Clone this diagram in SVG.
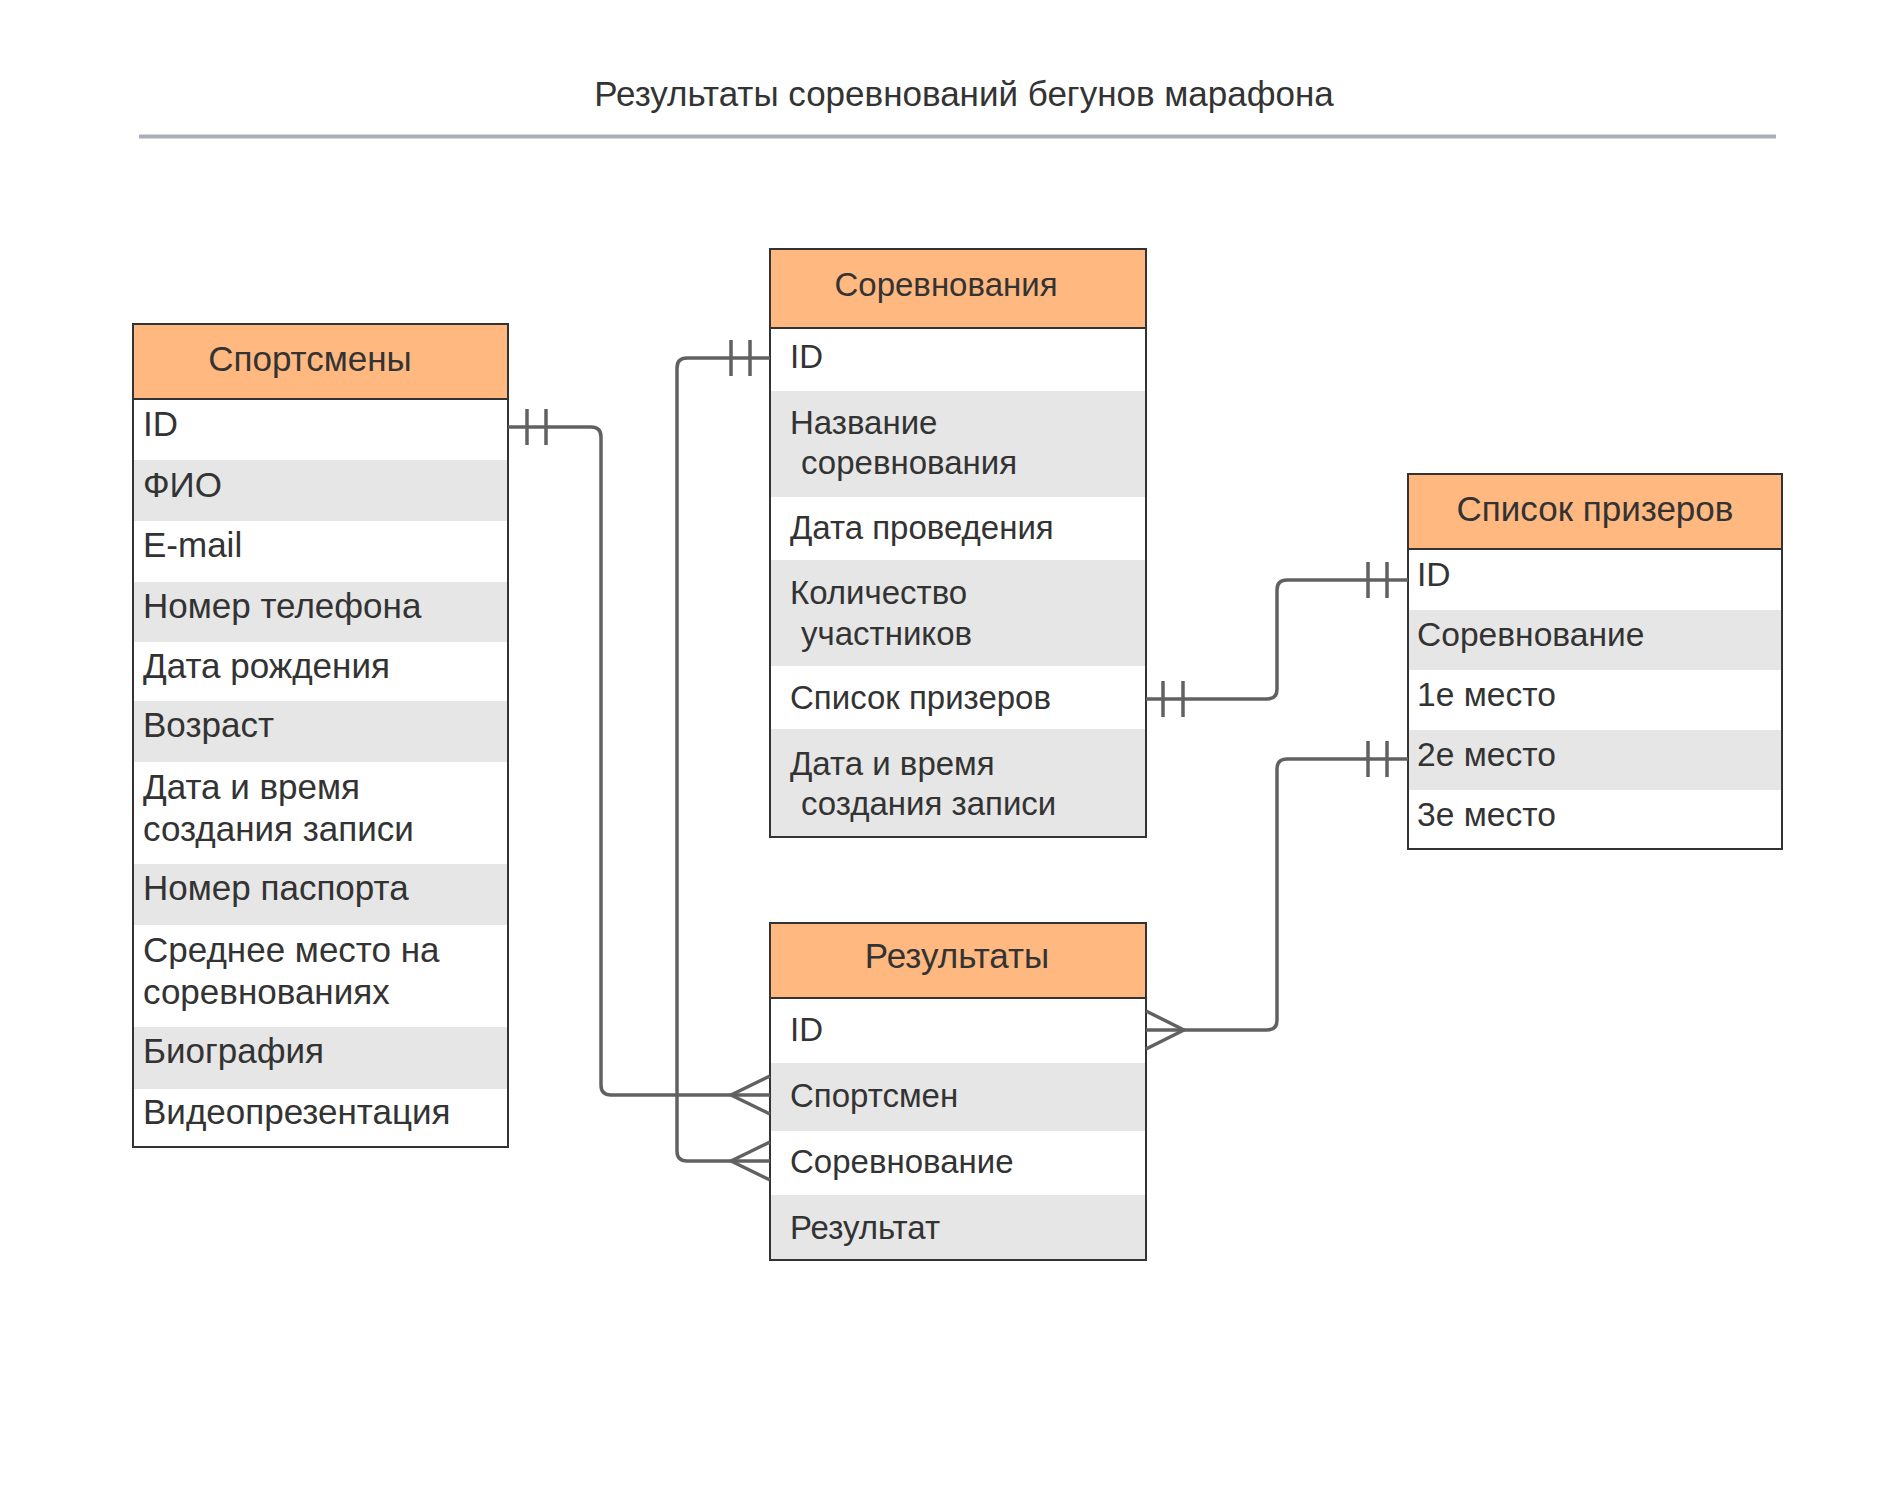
<svg xmlns="http://www.w3.org/2000/svg" width="1877" height="1487" viewBox="0 0 1877 1487">
<style>
text{font-family:"Liberation Sans",Arial,sans-serif;fill:#333333;font-size:33px}
.big{font-size:35px}
.p{font-size:33.6px}
.h{text-anchor:middle}
.hd{fill:#FFB880}
.w{fill:#FFFFFF}
.g{fill:#E6E6E6}
.frame{fill:none;stroke:#333333;stroke-width:2}
.c{fill:none;stroke:#616161;stroke-width:3.5;stroke-linejoin:round}
</style>
<rect width="1877" height="1487" fill="#FFFFFF"/>
<g id="title">
<text class="big h" x="964" y="106">Результаты соревнований бегунов марафона</text>
<line x1="139" y1="136.5" x2="1776" y2="136.5" stroke="#A9B0BB" stroke-width="4"/>
</g>
<g id="sportsmen">
<rect class="hd" x="133" y="324" width="375" height="75"/>
<rect class="w" x="133" y="399" width="375" height="61"/>
<rect class="g" x="133" y="460" width="375" height="61"/>
<rect class="w" x="133" y="521" width="375" height="61"/>
<rect class="g" x="133" y="582" width="375" height="60"/>
<rect class="w" x="133" y="642" width="375" height="59"/>
<rect class="g" x="133" y="701" width="375" height="61"/>
<rect class="w" x="133" y="762" width="375" height="102"/>
<rect class="g" x="133" y="864" width="375" height="61"/>
<rect class="w" x="133" y="925" width="375" height="102"/>
<rect class="g" x="133" y="1027" width="375" height="62"/>
<rect class="w" x="133" y="1089" width="375" height="58"/>
<rect class="frame" x="133" y="324" width="375" height="823"/>
<line x1="133" y1="399" x2="508" y2="399" stroke="#333333" stroke-width="2"/>
<g class="big">
<text class="big h" x="310" y="371">Спортсмены</text>
<text class="big" x="143" y="436">ID</text>
<text class="big" x="143" y="497">ФИО</text>
<text class="big" x="143" y="557">E-mail</text>
<text class="big" x="143" y="618">Номер телефона</text>
<text class="big" x="143" y="678">Дата рождения</text>
<text class="big" x="143" y="737">Возраст</text>
<text class="big" x="143" y="799">Дата и время</text>
<text class="big" x="143" y="841">создания записи</text>
<text class="big" x="143" y="900">Номер паспорта</text>
<text class="big" x="143" y="962">Среднее место на</text>
<text class="big" x="143" y="1004">соревнованиях</text>
<text class="big" x="143" y="1063">Биография</text>
<text class="big" x="143" y="1124">Видеопрезентация</text>
</g>
</g>
<g id="competitions">
<rect class="hd" x="770" y="249" width="376" height="79"/>
<rect class="w" x="770" y="328" width="376" height="63"/>
<rect class="g" x="770" y="391" width="376" height="106"/>
<rect class="w" x="770" y="497" width="376" height="63"/>
<rect class="g" x="770" y="560" width="376" height="106"/>
<rect class="w" x="770" y="666" width="376" height="63"/>
<rect class="g" x="770" y="729" width="376" height="108"/>
<rect class="frame" x="770" y="249" width="376" height="588"/>
<line x1="770" y1="328" x2="1146" y2="328" stroke="#333333" stroke-width="2"/>
<text class="h" x="946" y="296">Соревнования</text>
<text x="790" y="368">ID</text>
<text x="790" y="434">Название</text>
<text x="801" y="474">соревнования</text>
<text x="790" y="539">Дата проведения</text>
<text x="790" y="604">Количество</text>
<text x="801" y="645">участников</text>
<text x="790" y="709">Список призеров</text>
<text x="790" y="775">Дата и время</text>
<text x="801" y="815">создания записи</text>
</g>
<g id="prizewinners">
<rect class="hd" x="1408" y="474" width="374" height="75"/>
<rect class="w" x="1408" y="549" width="374" height="61"/>
<rect class="g" x="1408" y="610" width="374" height="60"/>
<rect class="w" x="1408" y="670" width="374" height="60"/>
<rect class="g" x="1408" y="730" width="374" height="60"/>
<rect class="w" x="1408" y="790" width="374" height="59"/>
<rect class="frame" x="1408" y="474" width="374" height="375"/>
<line x1="1408" y1="549" x2="1782" y2="549" stroke="#333333" stroke-width="2"/>
<text class="big h" x="1595" y="521">Список призеров</text>
<text class="p" x="1417" y="586">ID</text>
<text class="p" x="1417" y="646">Соревнование</text>
<text class="p" x="1417" y="706">1е место</text>
<text class="p" x="1417" y="766">2е место</text>
<text class="p" x="1417" y="826">3е место</text>
</g>
<g id="results">
<rect class="hd" x="770" y="923" width="376" height="75"/>
<rect class="w" x="770" y="998" width="376" height="65"/>
<rect class="g" x="770" y="1063" width="376" height="68"/>
<rect class="w" x="770" y="1131" width="376" height="64"/>
<rect class="g" x="770" y="1195" width="376" height="65"/>
<rect class="frame" x="770" y="923" width="376" height="337"/>
<line x1="770" y1="998" x2="1146" y2="998" stroke="#333333" stroke-width="2"/>
<text class="big h" x="957" y="968">Результаты</text>
<text x="790" y="1041">ID</text>
<text x="790" y="1107">Спортсмен</text>
<text x="790" y="1173">Соревнование</text>
<text x="790" y="1239">Результат</text>
</g>
<g id="connectors">
<path class="c" d="M508,427 H591 Q601,427 601,437 V1085 Q601,1095 611,1095 H770"/>
<path class="c" d="M527,409 V445 M546,409 V445"/>
<path class="c" d="M770,1076 L731,1095 L770,1114"/>
<path class="c" d="M770,358 H687 Q677,358 677,368 V1151 Q677,1161 687,1161 H770"/>
<path class="c" d="M731,340 V376 M750,340 V376"/>
<path class="c" d="M770,1142 L731,1161 L770,1180"/>
<path class="c" d="M1146,699 H1267 Q1277,699 1277,689 V590 Q1277,580 1287,580 H1408"/>
<path class="c" d="M1163,681 V717 M1183,681 V717"/>
<path class="c" d="M1368,562 V598 M1387,562 V598"/>
<path class="c" d="M1146,1030 H1267 Q1277,1030 1277,1020 V769 Q1277,759 1287,759 H1408"/>
<path class="c" d="M1146,1011 L1184,1030 L1146,1049"/>
<path class="c" d="M1368,741 V777 M1387,741 V777"/>
</g>
</svg>
